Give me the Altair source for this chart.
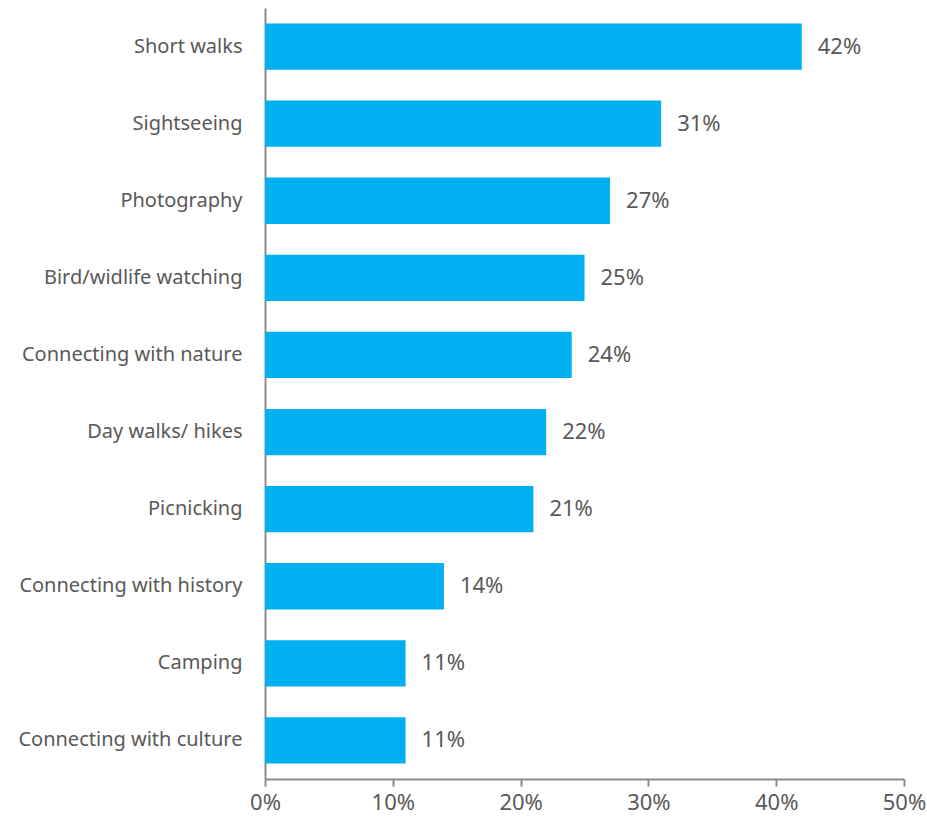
import altair as alt
import pandas as pd

categories = [
    "Short walks",
    "Sightseeing",
    "Photography",
    "Bird/widlife watching",
    "Connecting with nature",
    "Day walks/ hikes",
    "Picnicking",
    "Connecting with history",
    "Camping",
    "Connecting with culture",
]
values = [0.42, 0.31, 0.27, 0.25, 0.24, 0.22, 0.21, 0.14, 0.11, 0.11]
x_ticks = [0, 0.1, 0.2, 0.3, 0.4, 0.5]

df = pd.DataFrame({"activity": categories, "share": values})

FONT = "Noto Sans"
GREY = "#595959"
AXIS = "#8c8c8c"

y_enc = alt.Y(
    "activity:N",
    sort=categories,
    title=None,
    scale=alt.Scale(paddingInner=0.4, paddingOuter=0.2),
    axis=alt.Axis(
        ticks=False,
        domainColor=AXIS,
        domainWidth=2,
        labelFont=FONT,
        labelFontSize=20,
        labelColor=GREY,
        labelPadding=23,
        labelLimit=300,
    ),
)

x_enc = alt.X(
    "share:Q",
    title=None,
    scale=alt.Scale(domain=[0, 0.5], nice=False),
    axis=alt.Axis(
        values=x_ticks,
        format=".0%",
        grid=False,
        labelFlush=False,
        domainColor=AXIS,
        domainWidth=2,
        tickColor=AXIS,
        tickWidth=2,
        tickSize=7,
        labelFont=FONT,
        labelFontSize=22,
        labelColor=GREY,
        labelPadding=6,
    ),
)

bars = alt.Chart(df).mark_bar(color="#00B0F0").encode(x=x_enc, y=y_enc)

labels = alt.Chart(df).mark_text(
    align="left", baseline="middle", dx=16, font=FONT, fontSize=22, color=GREY
).encode(
    x=alt.X("share:Q"),
    y=alt.Y("activity:N", sort=categories),
    text=alt.Text("share:Q", format=".0%"),
)

chart = (
    alt.layer(bars, labels)
    .properties(
        width=639,
        height=771,
        autosize=alt.AutoSizeParams(type="none"),
        padding={"left": 265, "top": 8, "right": 23, "bottom": 42},
        background="white",
    )
    .configure_view(stroke=None)
)

chart.save("out.html", embed_options={"renderer": "svg", "actions": False})
